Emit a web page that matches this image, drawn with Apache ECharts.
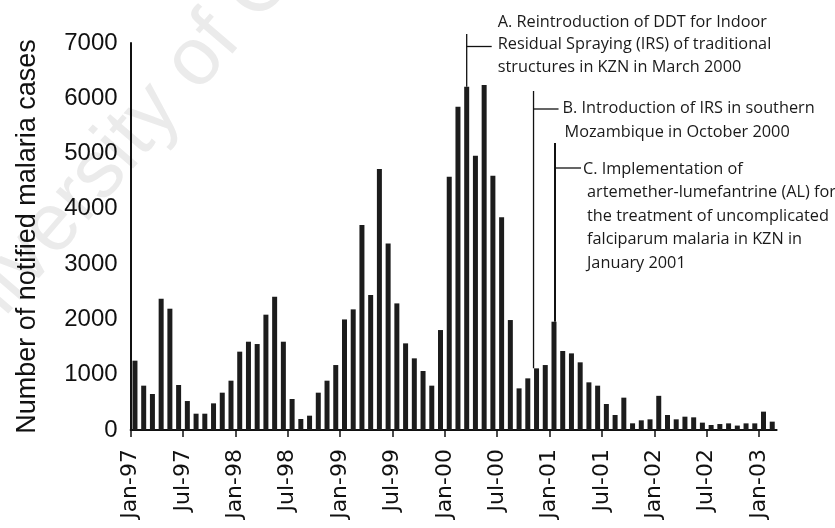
<!DOCTYPE html>
<html>
<head>
<meta charset="utf-8">
<script src="https://cdn.jsdelivr.net/npm/echarts@6/dist/echarts.min.js"></script>
<style>html,body{margin:0;padding:0;background:#fff;}#c{width:835px;height:528px;}</style>
</head>
<body>
<div id="c"></div>
<script>
// Monthly categories Jan-97 .. Feb-03 (one bar each)
const months = [
 'Jan-97','Feb-97','Mar-97','Apr-97','May-97','Jun-97','Jul-97','Aug-97','Sep-97','Oct-97','Nov-97','Dec-97',
 'Jan-98','Feb-98','Mar-98','Apr-98','May-98','Jun-98','Jul-98','Aug-98','Sep-98','Oct-98','Nov-98','Dec-98',
 'Jan-99','Feb-99','Mar-99','Apr-99','May-99','Jun-99','Jul-99','Aug-99','Sep-99','Oct-99','Nov-99','Dec-99',
 'Jan-00','Feb-00','Mar-00','Apr-00','May-00','Jun-00','Jul-00','Aug-00','Sep-00','Oct-00','Nov-00','Dec-00',
 'Jan-01','Feb-01','Mar-01','Apr-01','May-01','Jun-01','Jul-01','Aug-01','Sep-01','Oct-01','Nov-01','Dec-01',
 'Jan-02','Feb-02','Mar-02','Apr-02','May-02','Jun-02','Jul-02','Aug-02','Sep-02','Oct-02','Nov-02','Dec-02',
 'Jan-03','Feb-03'
];
// Notified malaria cases per month
const cases = [
 1254, 802, 651, 2375, 2194, 814, 524, 295, 295, 482, 675, 892,
 1417, 1597, 1555, 2086, 2411, 1597, 561, 199, 259, 675, 892, 1175,
 2000, 2182, 3707, 2441, 4720, 3375, 2290, 1567, 1296, 1067, 802, 1808,
 4581, 5847, 6208, 4961, 6239, 4599, 3846, 1989, 753, 934, 1115, 1175,
 1959, 1429, 1386, 1224, 862, 802, 470, 271, 585, 121, 175, 193,
 618, 271, 193, 241, 229, 133, 90, 108, 120, 80, 120, 120,
 332, 151
];
// Tick positions sit on month boundaries (start of each month), incl. end boundary
const tickLabels = months.concat(['Mar-03']);
const yTicks = [0, 1000, 2000, 3000, 4000, 5000, 6000, 7000];

// Annotations: [category of marker, text lines]
const annA = { cat: 'Mar-00', lines: ['A. Reintroduction of DDT for Indoor', 'Residual Spraying (IRS) of traditional', 'structures in KZN in March 2000'] };
const annB = { cat: 'Nov-00', lines: ['B. Introduction of IRS in southern', 'Mozambique in October 2000'] };
const annC = { cat: 'Jan-01', lines: ['C. Implementation of', 'artemether-lumefantrine (AL) for', 'the treatment of uncomplicated', 'falciparum malaria in KZN in', 'January 2001'] };

const chart = echarts.init(document.getElementById('c'), null, { renderer: 'canvas' });
const FONT = 'Liberation Sans';
chart.setOption({
  animation: false,
  backgroundColor: '#fff',
  grid: { left: 130.6, right: 58.4, top: 43, bottom: 98, containLabel: false },
  xAxis: [{
    type: 'category', data: months, boundaryGap: true,
    axisLine: { show: true, lineStyle: { color: '#111', width: 2 } },
    axisTick: { show: false }, axisLabel: { show: false }, splitLine: { show: false }
  }, {
    type: 'category', data: tickLabels, boundaryGap: false, position: 'bottom',
    axisLine: { show: false },
    axisTick: { show: true, interval: 5, length: 7, lineStyle: { color: '#111', width: 1.5 } },
    axisLabel: { show: true, interval: 5, rotate: 90, margin: 19, color: '#111', fontSize: 22, fontFamily: 'DejaVu Sans' },
    splitLine: { show: false }
  }],
  yAxis: {
    type: 'value', min: yTicks[0], max: yTicks[yTicks.length - 1], interval: 1000,
    name: 'Number of notified malaria cases', nameLocation: 'middle', nameRotate: 90, nameGap: 90,
    nameTextStyle: { fontSize: 27, color: '#111', fontFamily: FONT },
    axisLine: { show: true, lineStyle: { color: '#111', width: 2 } },
    axisTick: { show: false },
    axisLabel: { margin: 13, fontSize: 24, color: '#111', fontFamily: FONT, formatter: v => String(v) },
    splitLine: { show: false }
  },
  series: [{
    type: 'bar', data: cases, barWidth: 5, xAxisIndex: 0,
    itemStyle: { color: '#1c1c1c' }
  }]
});

function px(cat, v) { return chart.convertToPixel({ xAxisIndex: 0, yAxisIndex: 0 }, [cat, v]); }
const idx = c => months.indexOf(c);
const g = [];
const lineStyle = { stroke: '#111', lineWidth: 1.3 };
const textFont = '16.3px "Open Sans"';

// watermark
g.push({ type: 'text', x: -100, y: 342, rotation: 0.86, z: -10, silent: true,
  style: { text: 'University of Cape Town', font: '82px "Liberation Sans"', fill: '#ebebeb', verticalAlign: 'alphabetic' } });

// A
{
  const p = px(annA.cat, cases[idx(annA.cat)]);
  const top = 34, tickY = 46.5;
  g.push({ type: 'line', shape: { x1: p[0], y1: p[1], x2: p[0], y2: top }, style: lineStyle, z: 50 });
  g.push({ type: 'line', shape: { x1: p[0], y1: tickY, x2: p[0] + 25, y2: tickY }, style: lineStyle, z: 50 });
  annA.lines.forEach((t, i) => g.push({ type: 'text', x: p[0] + 31, y: 22 + i * 22.5, z: 50, style: { text: t, font: textFont, fill: '#1a1a1a', verticalAlign: 'middle' } }));
}
// B
{
  const p = px(annB.cat, cases[idx(annB.cat)]);
  const x = p[0] - 3, top = 91, tickY = 109;
  g.push({ type: 'line', shape: { x1: x, y1: p[1], x2: x, y2: top }, style: lineStyle, z: 50 });
  g.push({ type: 'line', shape: { x1: x, y1: tickY, x2: x + 25, y2: tickY }, style: lineStyle, z: 50 });
  annB.lines.forEach((t, i) => g.push({ type: 'text', x: x + (i === 0 ? 29 : 31), y: 108 + i * 24, z: 50, style: { text: t, font: textFont, fill: '#1a1a1a', verticalAlign: 'middle' } }));
}
// C
{
  const p = px(annC.cat, cases[idx(annC.cat)]);
  const x = p[0] + 1, top = 143, tickY = 168;
  g.push({ type: 'line', shape: { x1: x, y1: p[1], x2: x, y2: top }, style: { stroke: '#111', lineWidth: 2 }, z: 50 });
  g.push({ type: 'line', shape: { x1: x, y1: tickY, x2: x + 26, y2: tickY }, style: lineStyle, z: 50 });
  annC.lines.forEach((t, i) => g.push({ type: 'text', x: i === 0 ? x + 28 : x + 32, y: 169 + i * 23.5, z: 50, style: { text: t, font: textFont, fill: '#1a1a1a', verticalAlign: 'middle' } }));
}
chart.setOption({ graphic: g });
</script>
</body>
</html>
